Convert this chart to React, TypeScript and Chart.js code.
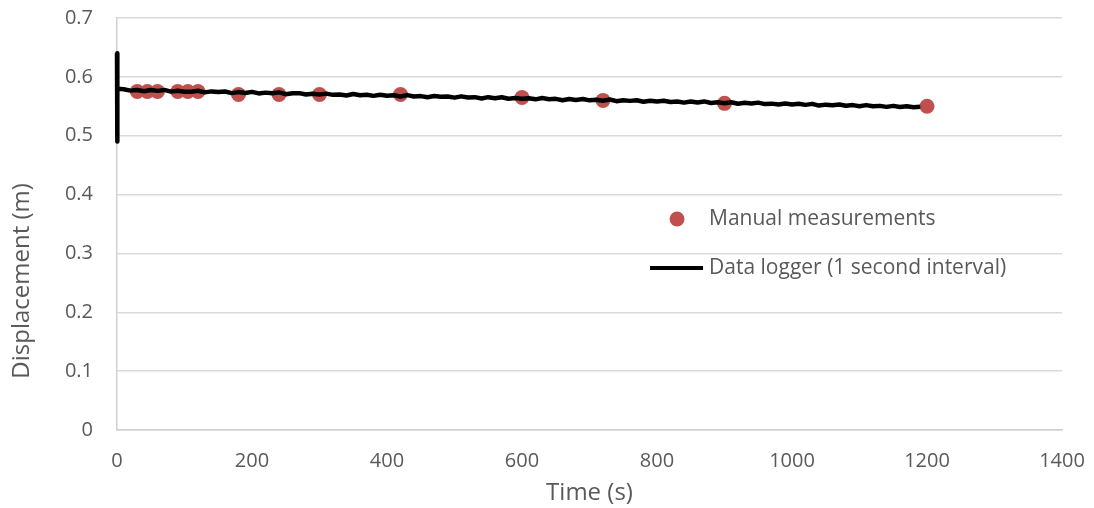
import React, { useEffect, useRef } from "react";
import { Chart, registerables } from "chart.js";

Chart.register(...registerables);

// Manual measurements
const manualTime = [30, 45, 60, 90, 105, 120, 180, 240, 300, 420, 600, 720, 900, 1200];
const manualDisp = [0.575, 0.575, 0.575, 0.575, 0.575, 0.575, 0.57, 0.57, 0.57, 0.57, 0.565, 0.56, 0.555, 0.55];

// Data logger (read every ~10 s from the trace, plus the initial spike)
const loggerTime = [
  0, 0, 1,
  10, 20, 30, 40, 50, 60, 70, 80, 90, 100,
  110, 120, 130, 140, 150, 160, 170, 180, 190, 200,
  210, 220, 230, 240, 250, 260, 270, 280, 290, 300,
  310, 320, 330, 340, 350, 360, 370, 380, 390, 400,
  410, 420, 430, 440, 450, 460, 470, 480, 490, 500,
  510, 520, 530, 540, 550, 560, 570, 580, 590, 600,
  610, 620, 630, 640, 650, 660, 670, 680, 690, 700,
  710, 720, 730, 740, 750, 760, 770, 780, 790, 800,
  810, 820, 830, 840, 850, 860, 870, 880, 890, 900,
  910, 920, 930, 940, 950, 960, 970, 980, 990, 1000,
  1010, 1020, 1030, 1040, 1050, 1060, 1070, 1080, 1090, 1100,
  1110, 1120, 1130, 1140, 1150, 1160, 1170, 1180, 1190,
];
const loggerDisp = [
  0.64, 0.49, 0.58,
  0.579, 0.5766, 0.5777, 0.5756, 0.5778, 0.5762, 0.5778, 0.5749, 0.5764, 0.5748,
  0.5748, 0.5764, 0.5736, 0.5753, 0.5741, 0.5752, 0.5724, 0.5741, 0.5727, 0.5745,
  0.5719, 0.5732, 0.572, 0.5736, 0.5706, 0.572, 0.5723, 0.57, 0.5713, 0.5701,
  0.5715, 0.5694, 0.5701, 0.5684, 0.5709, 0.5688, 0.5697, 0.5677, 0.5697, 0.5679,
  0.5688, 0.5666, 0.569, 0.5667, 0.5673, 0.5654, 0.5675, 0.5661, 0.5666, 0.5647,
  0.5669, 0.5648, 0.5655, 0.5633, 0.5655, 0.5636, 0.5653, 0.5628, 0.5639, 0.563,
  0.5638, 0.5618, 0.564, 0.5621, 0.5626, 0.5603, 0.5625, 0.5608, 0.5623, 0.5601,
  0.5611, 0.5595, 0.5615, 0.5587, 0.5603, 0.5592, 0.5602, 0.5576, 0.5595, 0.558,
  0.5594, 0.5574, 0.558, 0.5562, 0.5582, 0.5566, 0.5583, 0.5555, 0.5568, 0.5553,
  0.5568, 0.5543, 0.5559, 0.5547, 0.5562, 0.5537, 0.5545, 0.553, 0.5546, 0.5531,
  0.5543, 0.5524, 0.5541, 0.5512, 0.5528, 0.5518, 0.553, 0.5508, 0.552, 0.55,
  0.552, 0.5502, 0.5507, 0.549, 0.5507, 0.5487, 0.5501, 0.5484, 0.5492,
];

const manualLabel = "Manual measurements";
const loggerLabel = "Data logger (1 second interval)";
const xTitle = "Time (s)";
const yTitle = "Displacement (m)";

const FONT = "'Open Sans', sans-serif";
const TEXT = "#595959";
const RED = "#c0504d";

const overlayPlugin = {
  id: "overlay",
  afterDraw(chart: any) {
    const { ctx, chartArea } = chart;
    const w = chartArea.right - chartArea.left;
    const h = chartArea.bottom - chartArea.top;
    const x0 = chartArea.left + w * 0.6265;
    const y1 = chartArea.top + h * 0.488;
    const y2 = chartArea.top + h * 0.607;
    ctx.save();
    // legend
    ctx.fillStyle = RED;
    ctx.beginPath();
    ctx.arc(x0 - 32, y1, 7.5, 0, Math.PI * 2);
    ctx.fill();
    ctx.strokeStyle = "#000";
    ctx.lineWidth = 4;
    ctx.beginPath();
    ctx.moveTo(x0 - 59, y2);
    ctx.lineTo(x0 - 6, y2);
    ctx.stroke();
    ctx.fillStyle = TEXT;
    ctx.font = `21px ${FONT}`;
    ctx.textBaseline = "middle";
    ctx.textAlign = "left";
    ctx.fillText(chart.data.datasets[1].label, x0, y1);
    ctx.fillText(chart.data.datasets[0].label, x0, y2);
    // y axis title
    ctx.font = `24px ${FONT}`;
    ctx.textAlign = "center";
    ctx.translate(22, chartArea.top + h * 0.638);
    ctx.rotate(-Math.PI / 2);
    ctx.fillText(yTitle, 0, 0);
    ctx.restore();
  },
};

const zeroPad = (s: any) => {
  s.paddingTop = 0;
  s.paddingBottom = 0;
  s.paddingLeft = 0;
  s.paddingRight = 0;
};

export default function App() {
  const ref = useRef<HTMLCanvasElement>(null);
  useEffect(() => {
    document.body.style.margin = "0";
    const loggerData = loggerTime.map((t, i) => ({ x: t, y: loggerDisp[i] }));
    const manualData = manualTime.map((t, i) => ({ x: t, y: manualDisp[i] }));
    const chart = new Chart(ref.current!, {
      type: "scatter",
      data: {
        datasets: [
          {
            label: loggerLabel,
            data: loggerData,
            showLine: true,
            borderColor: "#000",
            borderWidth: 4.5,
            borderJoinStyle: "round",
            pointRadius: 0,
            tension: 0,
            clip: false,
          },
          {
            label: manualLabel,
            data: manualData,
            showLine: false,
            backgroundColor: RED,
            borderColor: RED,
            pointRadius: 7.5,
            pointBorderWidth: 0,
          },
        ],
      },
      options: {
        animation: false,
        responsive: false,
        layout: { padding: { left: 0, right: 32, top: 18, bottom: 0 } },
        plugins: { legend: { display: false }, tooltip: { enabled: false } },
        scales: {
          x: {
            type: "linear",
            min: 0,
            max: 1400,
            ticks: {
              stepSize: 200,
              color: TEXT,
              font: { family: FONT, size: 20 },
              padding: 19,
              callback: (v: any) => String(v),
            },
            grid: { color: "rgba(0,0,0,0)", drawTicks: false },
            border: { display: true, color: "#d0d0d0", width: 1.5 },
            title: { display: true, text: xTitle, color: TEXT, font: { family: FONT, size: 24 }, padding: { top: 0, bottom: 0 } },
            afterFit: (s: any) => { s.height = 78; zeroPad(s); },
          },
          y: {
            min: 0,
            max: 0.7,
            ticks: {
              stepSize: 0.1,
              color: TEXT,
              font: { family: FONT, size: 20 },
              padding: 24,
              callback: (v: any) => String(Math.round(v * 10) / 10),
            },
            grid: { color: "#d9d9d9", drawTicks: false, lineWidth: 1.5 },
            border: { display: true, color: "#d0d0d0", width: 1.5 },
            title: { display: false },
            afterFit: (s: any) => { s.width = 117; zeroPad(s); },
          },
        },
      },
      plugins: [overlayPlugin],
    });
    return () => chart.destroy();
  }, []);
  return (
    <div style={{ width: 1094, height: 508 }}>
      <canvas ref={ref} width={1094} height={508} />
    </div>
  );
}
